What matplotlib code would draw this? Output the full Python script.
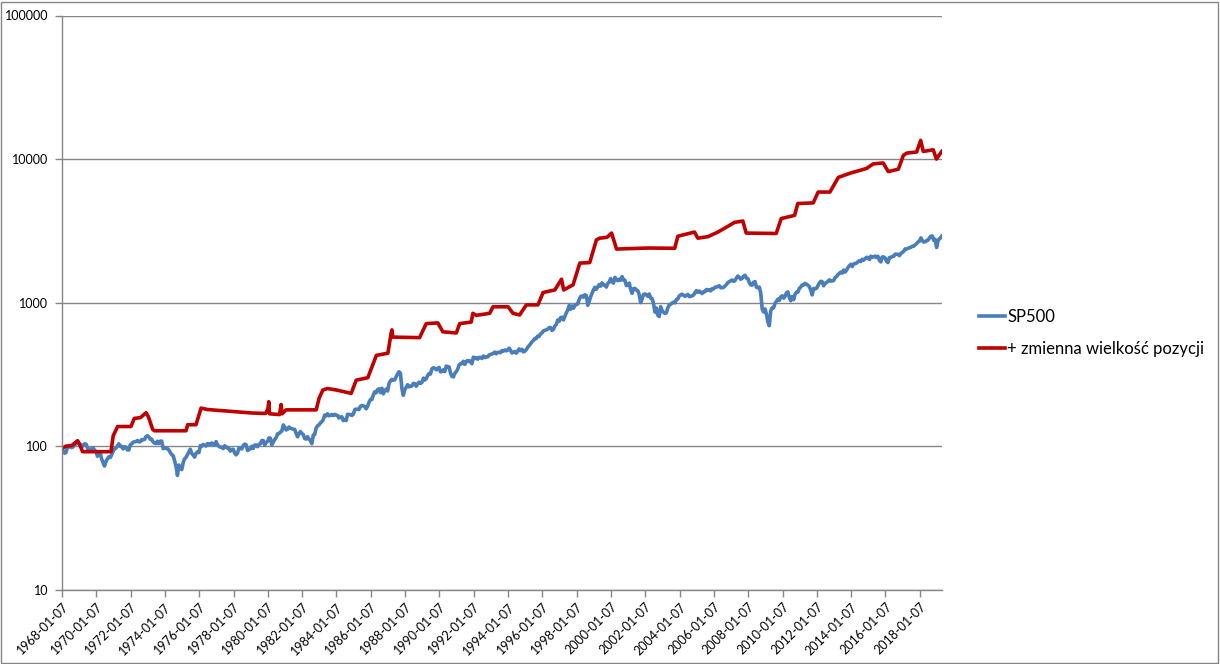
import matplotlib
matplotlib.use('Agg')
import matplotlib.pyplot as plt
import pandas as pd
from matplotlib.patches import Rectangle
from matplotlib.ticker import FixedLocator, FuncFormatter

plt.rcParams['font.family'] = ['Lato', 'DejaVu Sans']

# SP500 - zamkniecia miesieczne, od 1968-01 do 2019-03
sp500_first = ('1968-01-07', 96.5)
sp500_monthly = [
    92.2, 89.4, 90.2, 97.5, 98.7, 99.6, 97.7, 98.9, 102.7, 103.4, 108.4, 103.9,
    103.0, 98.1, 101.5, 103.7, 103.5, 97.7, 91.8, 95.5, 93.1, 97.2, 93.8, 92.1,
    85.0, 89.5, 89.6, 81.5, 76.6, 72.7, 78.1, 81.5, 84.3, 83.3, 87.2, 92.2,
    95.9, 96.8, 100.3, 103.9, 99.6, 99.7, 95.6, 99.0, 98.3, 94.2, 94.0, 102.1,
    103.9, 106.6, 107.2, 107.7, 109.5, 107.1, 107.4, 111.1, 110.6, 111.6, 116.7, 118.1,
    116.0, 111.7, 111.5, 107.0, 105.0, 104.3, 108.2, 104.3, 108.4, 108.3, 96.0, 97.6,
    96.6, 96.2, 94.0, 90.3, 87.3, 86.0, 79.3, 72.2, 62.5, 73.9, 70.0, 68.6,
    77.0, 81.6, 83.4, 87.3, 91.2, 95.2, 88.8, 86.9, 83.9, 89.0, 91.2, 90.2,
    100.9, 99.7, 102.8, 101.6, 100.2, 104.3, 103.4, 102.9, 105.2, 102.9, 102.1, 107.5,
    102.0, 99.8, 98.4, 98.4, 96.1, 100.5, 98.9, 96.8, 96.5, 92.3, 94.8, 95.1,
    89.3, 87.0, 89.2, 96.8, 97.3, 95.5, 100.7, 103.3, 102.5, 93.2, 94.7, 96.1,
    99.9, 96.3, 101.6, 101.8, 99.1, 102.9, 103.8, 109.3, 109.3, 101.8, 106.2, 107.9,
    114.2, 113.7, 102.1, 106.3, 111.2, 114.2, 121.7, 122.4, 125.5, 127.5, 140.5, 135.8,
    129.6, 131.3, 136.0, 132.8, 132.6, 131.2, 130.9, 122.8, 116.2, 121.9, 126.4, 122.6,
    120.4, 113.1, 112.0, 116.4, 111.9, 109.6, 104.0, 119.5, 120.4, 133.7, 138.5, 140.6,
    145.3, 148.1, 153.0, 164.4, 162.4, 168.1, 162.6, 164.4, 166.1, 163.6, 166.4, 164.9,
    163.4, 157.1, 159.2, 160.1, 150.6, 153.2, 150.7, 166.7, 166.1, 166.1, 163.6, 167.2,
    179.6, 181.2, 180.7, 179.8, 189.6, 191.9, 190.9, 188.6, 182.1, 189.8, 202.2, 211.3,
    211.8, 226.9, 238.9, 235.5, 247.4, 250.8, 236.1, 252.9, 231.3, 244.0, 249.2, 242.2,
    274.1, 284.2, 291.7, 288.4, 290.1, 304.0, 318.7, 329.8, 321.8, 251.8, 226.0, 247.1,
    257.1, 267.8, 258.9, 261.3, 262.2, 273.5, 272.0, 261.5, 271.9, 279.0, 273.7, 277.7,
    297.5, 288.9, 294.9, 309.6, 320.5, 318.0, 346.1, 351.5, 349.2, 340.4, 346.0, 353.4,
    329.1, 331.9, 339.9, 330.8, 361.2, 358.0, 356.2, 322.6, 306.1, 304.0, 322.2, 330.2,
    343.9, 367.1, 375.2, 375.3, 389.8, 371.2, 387.8, 395.4, 387.9, 392.5, 375.2, 417.1,
    408.8, 412.7, 403.7, 415.0, 415.4, 408.1, 424.2, 414.0, 417.8, 418.7, 431.4, 435.7,
    438.8, 443.4, 451.7, 440.2, 450.2, 450.5, 448.1, 463.6, 458.9, 467.8, 461.8, 466.5,
    481.6, 467.1, 445.8, 450.9, 456.5, 444.3, 458.3, 475.5, 462.7, 472.4, 453.7, 459.3,
    470.4, 487.4, 500.7, 514.7, 533.4, 544.8, 562.1, 561.9, 584.4, 581.5, 605.4, 615.9,
    636.0, 640.4, 645.5, 654.2, 669.1, 670.6, 640.0, 652.0, 687.3, 705.3, 757.0, 740.7,
    786.2, 790.8, 757.1, 801.3, 848.3, 885.1, 954.3, 899.5, 947.3, 914.6, 955.4, 970.4,
    980.3, 1049.3, 1101.8, 1111.8, 1090.8, 1133.8, 1120.7, 957.3, 1017.0, 1098.7, 1163.6, 1229.2,
    1279.6, 1238.3, 1286.4, 1335.2, 1301.8, 1372.7, 1328.7, 1320.4, 1282.7, 1362.9, 1388.9, 1469.3,
    1394.5, 1366.4, 1498.6, 1452.4, 1420.6, 1454.6, 1430.8, 1517.7, 1436.5, 1429.4, 1315.2, 1320.3,
    1366.0, 1239.9, 1160.3, 1249.5, 1255.8, 1224.4, 1211.2, 1133.6, 1000.0, 1059.8, 1139.5, 1148.1,
    1130.2, 1106.7, 1147.4, 1076.9, 1067.1, 989.8, 860.0, 916.1, 815.3, 800.0, 936.3, 879.8,
    855.7, 841.2, 848.2, 916.9, 963.6, 974.5, 990.3, 1008.0, 996.0, 1050.7, 1058.2, 1111.9,
    1131.1, 1144.9, 1126.2, 1107.3, 1120.7, 1140.8, 1101.7, 1104.2, 1114.6, 1130.2, 1173.8, 1211.9,
    1181.3, 1203.6, 1180.6, 1156.9, 1191.5, 1191.3, 1234.2, 1220.3, 1228.8, 1207.0, 1249.5, 1248.3,
    1280.1, 1280.7, 1294.9, 1310.6, 1270.1, 1270.2, 1276.7, 1303.8, 1335.9, 1377.9, 1400.6, 1418.3,
    1438.2, 1406.8, 1420.9, 1482.4, 1530.6, 1503.4, 1455.3, 1474.0, 1526.8, 1549.4, 1481.1, 1468.4,
    1378.6, 1330.6, 1322.7, 1385.6, 1400.4, 1280.0, 1267.4, 1282.8, 1166.4, 900.0, 860.0, 903.3,
    825.9, 735.1, 690.0, 872.8, 919.1, 919.3, 987.5, 1020.6, 1057.1, 1036.2, 1095.6, 1115.1,
    1073.9, 1104.5, 1169.4, 1186.7, 1089.4, 1030.7, 1101.6, 1049.3, 1141.2, 1183.3, 1180.6, 1257.6,
    1286.1, 1327.2, 1325.8, 1363.6, 1345.2, 1320.6, 1292.3, 1218.9, 1131.4, 1253.3, 1247.0, 1257.6,
    1312.4, 1365.7, 1408.5, 1397.9, 1310.3, 1362.2, 1379.3, 1406.6, 1440.7, 1412.2, 1416.2, 1426.2,
    1498.1, 1514.7, 1569.2, 1597.6, 1630.7, 1606.3, 1685.7, 1633.0, 1681.6, 1756.5, 1805.8, 1848.4,
    1782.6, 1859.5, 1872.3, 1884.0, 1923.6, 1960.2, 1930.7, 2003.4, 1972.3, 2018.1, 2067.6, 2058.9,
    1995.0, 2104.5, 2067.9, 2085.5, 2107.4, 2063.1, 2103.8, 1972.2, 1920.0, 2079.4, 2080.4, 2043.9,
    1940.2, 1900.0, 2059.7, 2065.3, 2097.0, 2098.9, 2173.6, 2171.0, 2168.3, 2126.2, 2199.0, 2238.8,
    2278.9, 2363.6, 2362.7, 2384.2, 2411.8, 2423.4, 2470.3, 2471.7, 2519.4, 2575.3, 2647.6, 2673.6,
    2823.8, 2713.8, 2640.9, 2648.1, 2705.3, 2718.4, 2816.3, 2901.5, 2914.0, 2711.7, 2760.2, 2420.0,
    2704.1, 2784.5, 2834.4,
]
sp500_last = ('2019-04-19', 2905.0)

# strategia ze zmienna wielkoscia pozycji
strat_dates = [
    '1968-01-07', '1968-04-01', '1968-08-01', '1968-12-05', '1969-01-10', '1969-03-20',
    '1970-11-15', '1971-01-01', '1971-04-05', '1972-01-15', '1972-03-25', '1972-08-05',
    '1972-12-01', '1973-01-20', '1973-04-20', '1973-05-25', '1975-04-01', '1975-05-05',
    '1975-10-30', '1976-02-15', '1976-07-01', '1977-01-01', '1979-02-20', '1979-11-20',
    '1980-01-08', '1980-01-27', '1980-02-10', '1980-09-10', '1980-10-15', '1980-11-05',
    '1981-01-30', '1982-11-01', '1983-01-01', '1983-03-22', '1983-07-01', '1984-02-05',
    '1984-11-15', '1985-03-01', '1985-11-05', '1986-02-05', '1986-05-05', '1987-01-05',
    '1987-03-18', '1987-04-01', '1987-04-20', '1988-11-10', '1989-04-01', '1989-12-05',
    '1990-03-20', '1991-01-01', '1991-03-15', '1991-11-15', '1991-12-20', '1992-03-01',
    '1992-12-12', '1993-02-20', '1994-01-08', '1994-04-22', '1994-09-10', '1995-02-01',
    '1995-10-05', '1996-01-22', '1996-09-28', '1997-02-18', '1997-04-05', '1997-10-22',
    '1998-03-15', '1998-10-12', '1999-03-03', '1999-05-12', '1999-10-15', '2000-01-20',
    '2000-05-05', '2002-03-01', '2003-09-25', '2003-12-01', '2004-11-20', '2005-01-30',
    '2005-09-01', '2006-04-01', '2006-12-05', '2007-03-20', '2007-09-15', '2007-11-25',
    '2009-08-25', '2009-12-10', '2010-09-20', '2010-11-28', '2011-10-22', '2012-02-05',
    '2012-10-12', '2013-04-08', '2013-12-15', '2014-12-01', '2015-04-20', '2015-11-20',
    '2016-03-06', '2016-10-08', '2017-01-22', '2017-04-05', '2017-11-02', '2018-01-26',
    '2018-03-22', '2018-10-20', '2018-12-28', '2019-04-19',
]
strat_values = [
    96.5, 100, 101, 109, 104, 91.5,
    91.5, 118, 137, 137, 156, 158,
    171, 160, 131, 128, 128, 141,
    141, 184, 180, 178, 170, 169,
    182, 204, 168, 166, 195, 168,
    179, 179, 215, 246, 252, 245,
    233, 288, 300, 360, 429, 444,
    620, 646, 575, 570, 714, 722,
    626, 614, 714, 732, 842, 815,
    842, 935, 935, 842, 820, 964,
    964, 1175, 1225, 1455, 1225, 1330,
    1885, 1900, 2735, 2810, 2850, 3050,
    2360, 2400, 2390, 2900, 3100, 2810,
    2880, 3100, 3450, 3620, 3700, 3050,
    3030, 3850, 4050, 4900, 4950, 5890,
    5890, 7450, 7970, 8600, 9250, 9390,
    8180, 8500, 10600, 11000, 11200, 13500,
    11300, 11600, 10000, 11300,
]

y_ticks = [10, 100, 1000, 10000, 100000]

sp_dates = ([pd.Timestamp(sp500_first[0])]
            + list(pd.date_range('1968-01-31', periods=len(sp500_monthly), freq='ME'))
            + [pd.Timestamp(sp500_last[0])])
sp_values = [sp500_first[1]] + sp500_monthly + [sp500_last[1]]
st_dates = pd.to_datetime(strat_dates)

fig = plt.figure(figsize=(12.2, 6.64), dpi=100)
ax = fig.add_axes([62 / 1220, 1 - 589.7 / 664, 880 / 1220, (589.7 - 15.5) / 664])

ax.plot(sp_dates, sp_values, color='#4A7EBB', lw=2.6, label='SP500', solid_joinstyle='round')
ax.plot(st_dates, strat_values, color='#C00000', lw=2.6, label='+ zmienna wielkość pozycji',
        solid_joinstyle='round')

ax.set_yscale('log')
ax.set_ylim(10, 100000)
ax.yaxis.set_major_locator(FixedLocator(y_ticks))
ax.yaxis.set_major_formatter(FuncFormatter(lambda v, p: '%d' % round(v)))
ax.yaxis.set_minor_locator(FixedLocator([]))
ax.grid(axis='y', color='#868686', lw=1)
ax.set_axisbelow(True)

x_ticks = pd.date_range('1968-01-07', '2018-01-07', freq=pd.DateOffset(years=2))
ax.set_xlim(pd.Timestamp('1968-01-07'), pd.Timestamp('2019-04-25'))
ax.set_xticks(x_ticks)
ax.set_xticklabels([d.strftime('%Y-%m-%d') for d in x_ticks], rotation=45,
                   ha='right', rotation_mode='anchor')

for s in ['top', 'right']:
    ax.spines[s].set_visible(False)
for s in ['left', 'bottom']:
    ax.spines[s].set_color('#868686')
    ax.spines[s].set_linewidth(1)
ax.tick_params(axis='both', color='#868686', length=5, width=1, labelsize=9, labelcolor='black')
ax.tick_params(axis='y', pad=5)
ax.tick_params(axis='x', pad=3)

ax.legend(loc='center left', bbox_to_anchor=(972 / 1220, 1 - 333 / 664),
          bbox_transform=fig.transFigure, frameon=False, fontsize=12,
          handlelength=1.6, handletextpad=0.1, labelspacing=0.95, borderaxespad=0)

fig.patches.append(Rectangle((1 / 1220, 1 / 664), 1217 / 1220, 661 / 664,
                             transform=fig.transFigure, fill=False,
                             edgecolor='#868686', lw=1))

fig.savefig('out.png', dpi=100, facecolor='white')
